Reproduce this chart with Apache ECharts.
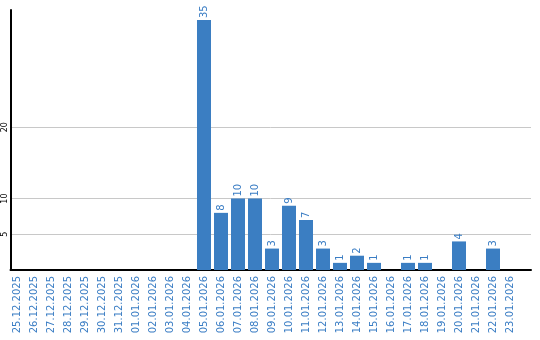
<!DOCTYPE html>
<html><head><meta charset="utf-8">
<script src="https://cdn.jsdelivr.net/npm/echarts@6/dist/echarts.min.js"></script>
<style>html,body{margin:0;padding:0;background:#fff}#c{width:540px;height:340px}</style>
</head><body><div id="c"></div>
<script>
const categories = ['25.12.2025','26.12.2025','27.12.2025','28.12.2025','29.12.2025','30.12.2025','31.12.2025','01.01.2026','02.01.2026','03.01.2026','04.01.2026','05.01.2026','06.01.2026','07.01.2026','08.01.2026','09.01.2026','10.01.2026','11.01.2026','12.01.2026','13.01.2026','14.01.2026','15.01.2026','16.01.2026','17.01.2026','18.01.2026','19.01.2026','20.01.2026','21.01.2026','22.01.2026','23.01.2026'];
const values = [0,0,0,0,0,0,0,0,0,0,0,35,8,10,10,3,9,7,3,1,2,1,0,1,1,0,4,0,3,0];
const yTicks = [5,10,20];

const idx = categories.map((c,i)=>i);
const chart = echarts.init(document.getElementById('c'), null, {renderer:'canvas'});
chart.setOption({
  animation:false,
  grid:{left:10.5,right:9,top:10,bottom:70,containLabel:false},
  xAxis:{type:'value',min:-0.382,max:30.235,
    axisLine:{show:true,onZero:false,lineStyle:{color:'#000',width:2}},
    axisTick:{show:false},
    splitLine:{show:false},
    axisLabel:{customValues:idx,formatter:v=>categories[Math.round(v)]||'',rotate:90,color:'#3a7dc4',fontFamily:'DejaVu Sans',fontSize:10,margin:6}},
  yAxis:{type:'value',min:0,max:36.4,
    axisLine:{show:true,onZero:false,lineStyle:{color:'#000',width:2}},
    axisTick:{show:false},
    splitLine:{show:false},
    axisLabel:{customValues:yTicks,rotate:90,color:'#000',fontFamily:'DejaVu Sans',fontSize:8,margin:2}},
  series:[{type:'bar',data:values.map((v,i)=>[i,v]),barWidth:14,
    itemStyle:{color:'#3b7ec2'},
    label:{show:true,position:'top',rotate:90,align:'left',verticalAlign:'middle',distance:2,
      color:'#3a7dc4',fontFamily:'DejaVu Sans',fontSize:10,
      formatter:p=>p.value[1]>0?String(p.value[1]):''},
    markLine:{silent:true,symbol:'none',label:{show:false},z:0,
      lineStyle:{color:'#c8c8c8',type:'solid',width:1},
      data:yTicks.map(v=>({yAxis:v}))}
  }]
});
</script></body></html>
